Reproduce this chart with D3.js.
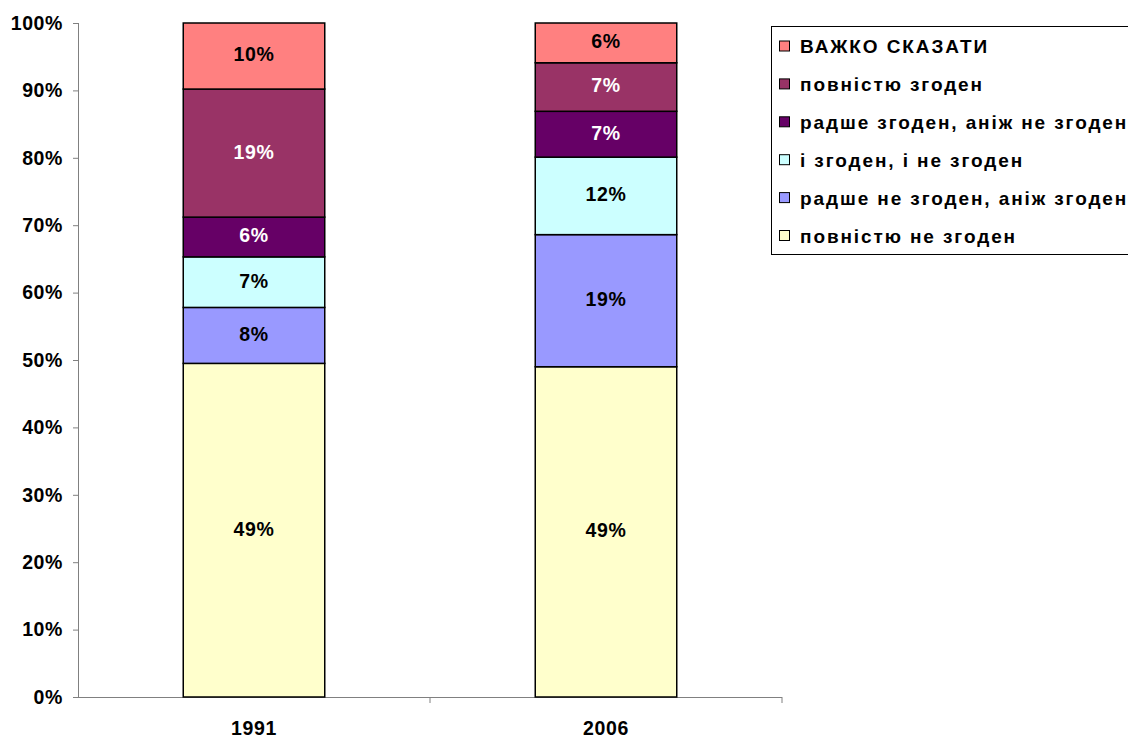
<!DOCTYPE html>
<html>
<head>
<meta charset="utf-8">
<script src="https://cdn.jsdelivr.net/npm/d3@7"></script>
<style>
  body { margin: 0; background: #fff; }
  text { font-family: "Liberation Sans", Arial, sans-serif; font-weight: bold; }
</style>
</head>
<body>
<svg id="chart" width="1128" height="738"></svg>
<script>
// categories and series, bottom to top
var years = ['1991', '2006'];
var seriesNames = [
  'повністю не згоден',
  'радше не згоден, аніж згоден',
  'і згоден, і не згоден',
  'радше згоден, аніж не згоден',
  'повністю згоден',
  'ВАЖКО СКАЗАТИ'
];
var values1991 = [49.5, 8.3, 7.5, 5.9, 19.0, 9.8];
var values2006 = [49.0, 19.6, 11.5, 6.8, 7.2, 5.9];
var labels1991 = ['49%', '8%', '7%', '6%', '19%', '10%'];
var labels2006 = ['49%', '19%', '12%', '7%', '7%', '6%'];
var colors = ['#FFFFCC', '#9999FF', '#CCFFFF', '#660066', '#993366', '#FF8080'];
var labelColors = ['#000', '#000', '#000', '#fff', '#fff', '#000'];
var yTicks = [0, 10, 20, 30, 40, 50, 60, 70, 80, 90, 100];

var svg = d3.select('#chart');
var plotLeft = 78, plotRight = 782, plotTop = 23, plotBottom = 697;
var fontSize = 19.5;

var x = d3.scaleBand().domain(years).range([plotLeft, plotRight]).padding(0);
var y = d3.scaleLinear().domain([0, 100]).range([plotBottom, plotTop]);
var barW = x.bandwidth() * 0.402;

// build stacked rows
var rows = years.map(function(yr, i) {
  var vals = i === 0 ? values1991 : values2006;
  var labs = i === 0 ? labels1991 : labels2006;
  var acc = 0;
  return seriesNames.map(function(name, k) {
    var seg = { year: yr, k: k, y0: acc, y1: acc + vals[k], label: labs[k] };
    acc += vals[k];
    return seg;
  });
});
var segs = [].concat.apply([], rows);

// y axis
var yAxis = svg.append('g')
  .attr('transform', 'translate(' + plotLeft + ',0)')
  .call(d3.axisLeft(y).tickValues(yTicks).tickSize(5).tickPadding(10)
    .tickFormat(function(d) { return d + '%'; }));
yAxis.selectAll('line, path').attr('stroke', '#808080');
yAxis.select('.domain').attr('d', 'M0.5,' + plotTop + 'V' + plotBottom);
yAxis.selectAll('text').attr('font-size', fontSize).attr('fill', '#000')
  .attr('letter-spacing', 0.6)
  .attr('font-family', '"Liberation Sans", Arial, sans-serif').attr('font-weight', 'bold');

// x axis
var xAxis = svg.append('g')
  .attr('transform', 'translate(0,' + plotBottom + ')')
  .call(d3.axisBottom(x).tickSize(0).tickPadding(24));
xAxis.select('.domain').attr('stroke', '#808080').attr('d', 'M' + plotLeft + ',0.5H' + plotRight);
xAxis.selectAll('text').attr('font-size', fontSize).attr('fill', '#000')
  .attr('letter-spacing', 0.6)
  .attr('font-family', '"Liberation Sans", Arial, sans-serif').attr('font-weight', 'bold');
// tick marks between categories
xAxis.selectAll('.sep')
  .data([plotLeft + x.step(), plotRight])
  .enter().append('line')
  .attr('x1', function(d) { return d; }).attr('x2', function(d) { return d; })
  .attr('y1', 0).attr('y2', 6)
  .attr('stroke', '#808080');

// bars
svg.append('g').selectAll('rect')
  .data(segs)
  .enter().append('rect')
  .attr('x', function(d) { return x(d.year) + (x.bandwidth() - barW) / 2; })
  .attr('y', function(d) { return y(d.y1); })
  .attr('width', barW)
  .attr('height', function(d) { return y(d.y0) - y(d.y1); })
  .attr('fill', function(d) { return colors[d.k]; })
  .attr('stroke', '#000')
  .attr('stroke-width', 1.5);

// data labels
svg.append('g').selectAll('text')
  .data(segs)
  .enter().append('text')
  .attr('x', function(d) { return x(d.year) + x.bandwidth() / 2; })
  .attr('y', function(d) { return (y(d.y0) + y(d.y1)) / 2; })
  .attr('dy', '0.28em')
  .attr('text-anchor', 'middle')
  .attr('font-size', fontSize)
  .attr('letter-spacing', 0.6)
  .attr('fill', function(d) { return labelColors[d.k]; })
  .text(function(d) { return d.label; });

// legend, top entry first
var legend = svg.append('g');
legend.append('rect')
  .attr('x', 771.5).attr('y', 26.5)
  .attr('width', 380).attr('height', 228)
  .attr('fill', '#fff').attr('stroke', '#000');
var legendOrder = seriesNames.map(function(n, k) { return k; }).reverse();
var item = legend.selectAll('.item')
  .data(legendOrder)
  .enter().append('g')
  .attr('transform', function(d, i) { return 'translate(779,' + (46.5 + i * 37.9) + ')'; });
item.append('rect')
  .attr('x', 0.5).attr('y', -5.5)
  .attr('width', 10).attr('height', 10)
  .attr('fill', function(d) { return colors[d]; })
  .attr('stroke', '#000');
item.append('text')
  .attr('x', 21).attr('dy', '0.35em')
  .attr('font-size', 19)
  .attr('letter-spacing', 1.9)
  .attr('fill', '#000')
  .text(function(d) { return seriesNames[d]; });
</script>
</body>
</html>
